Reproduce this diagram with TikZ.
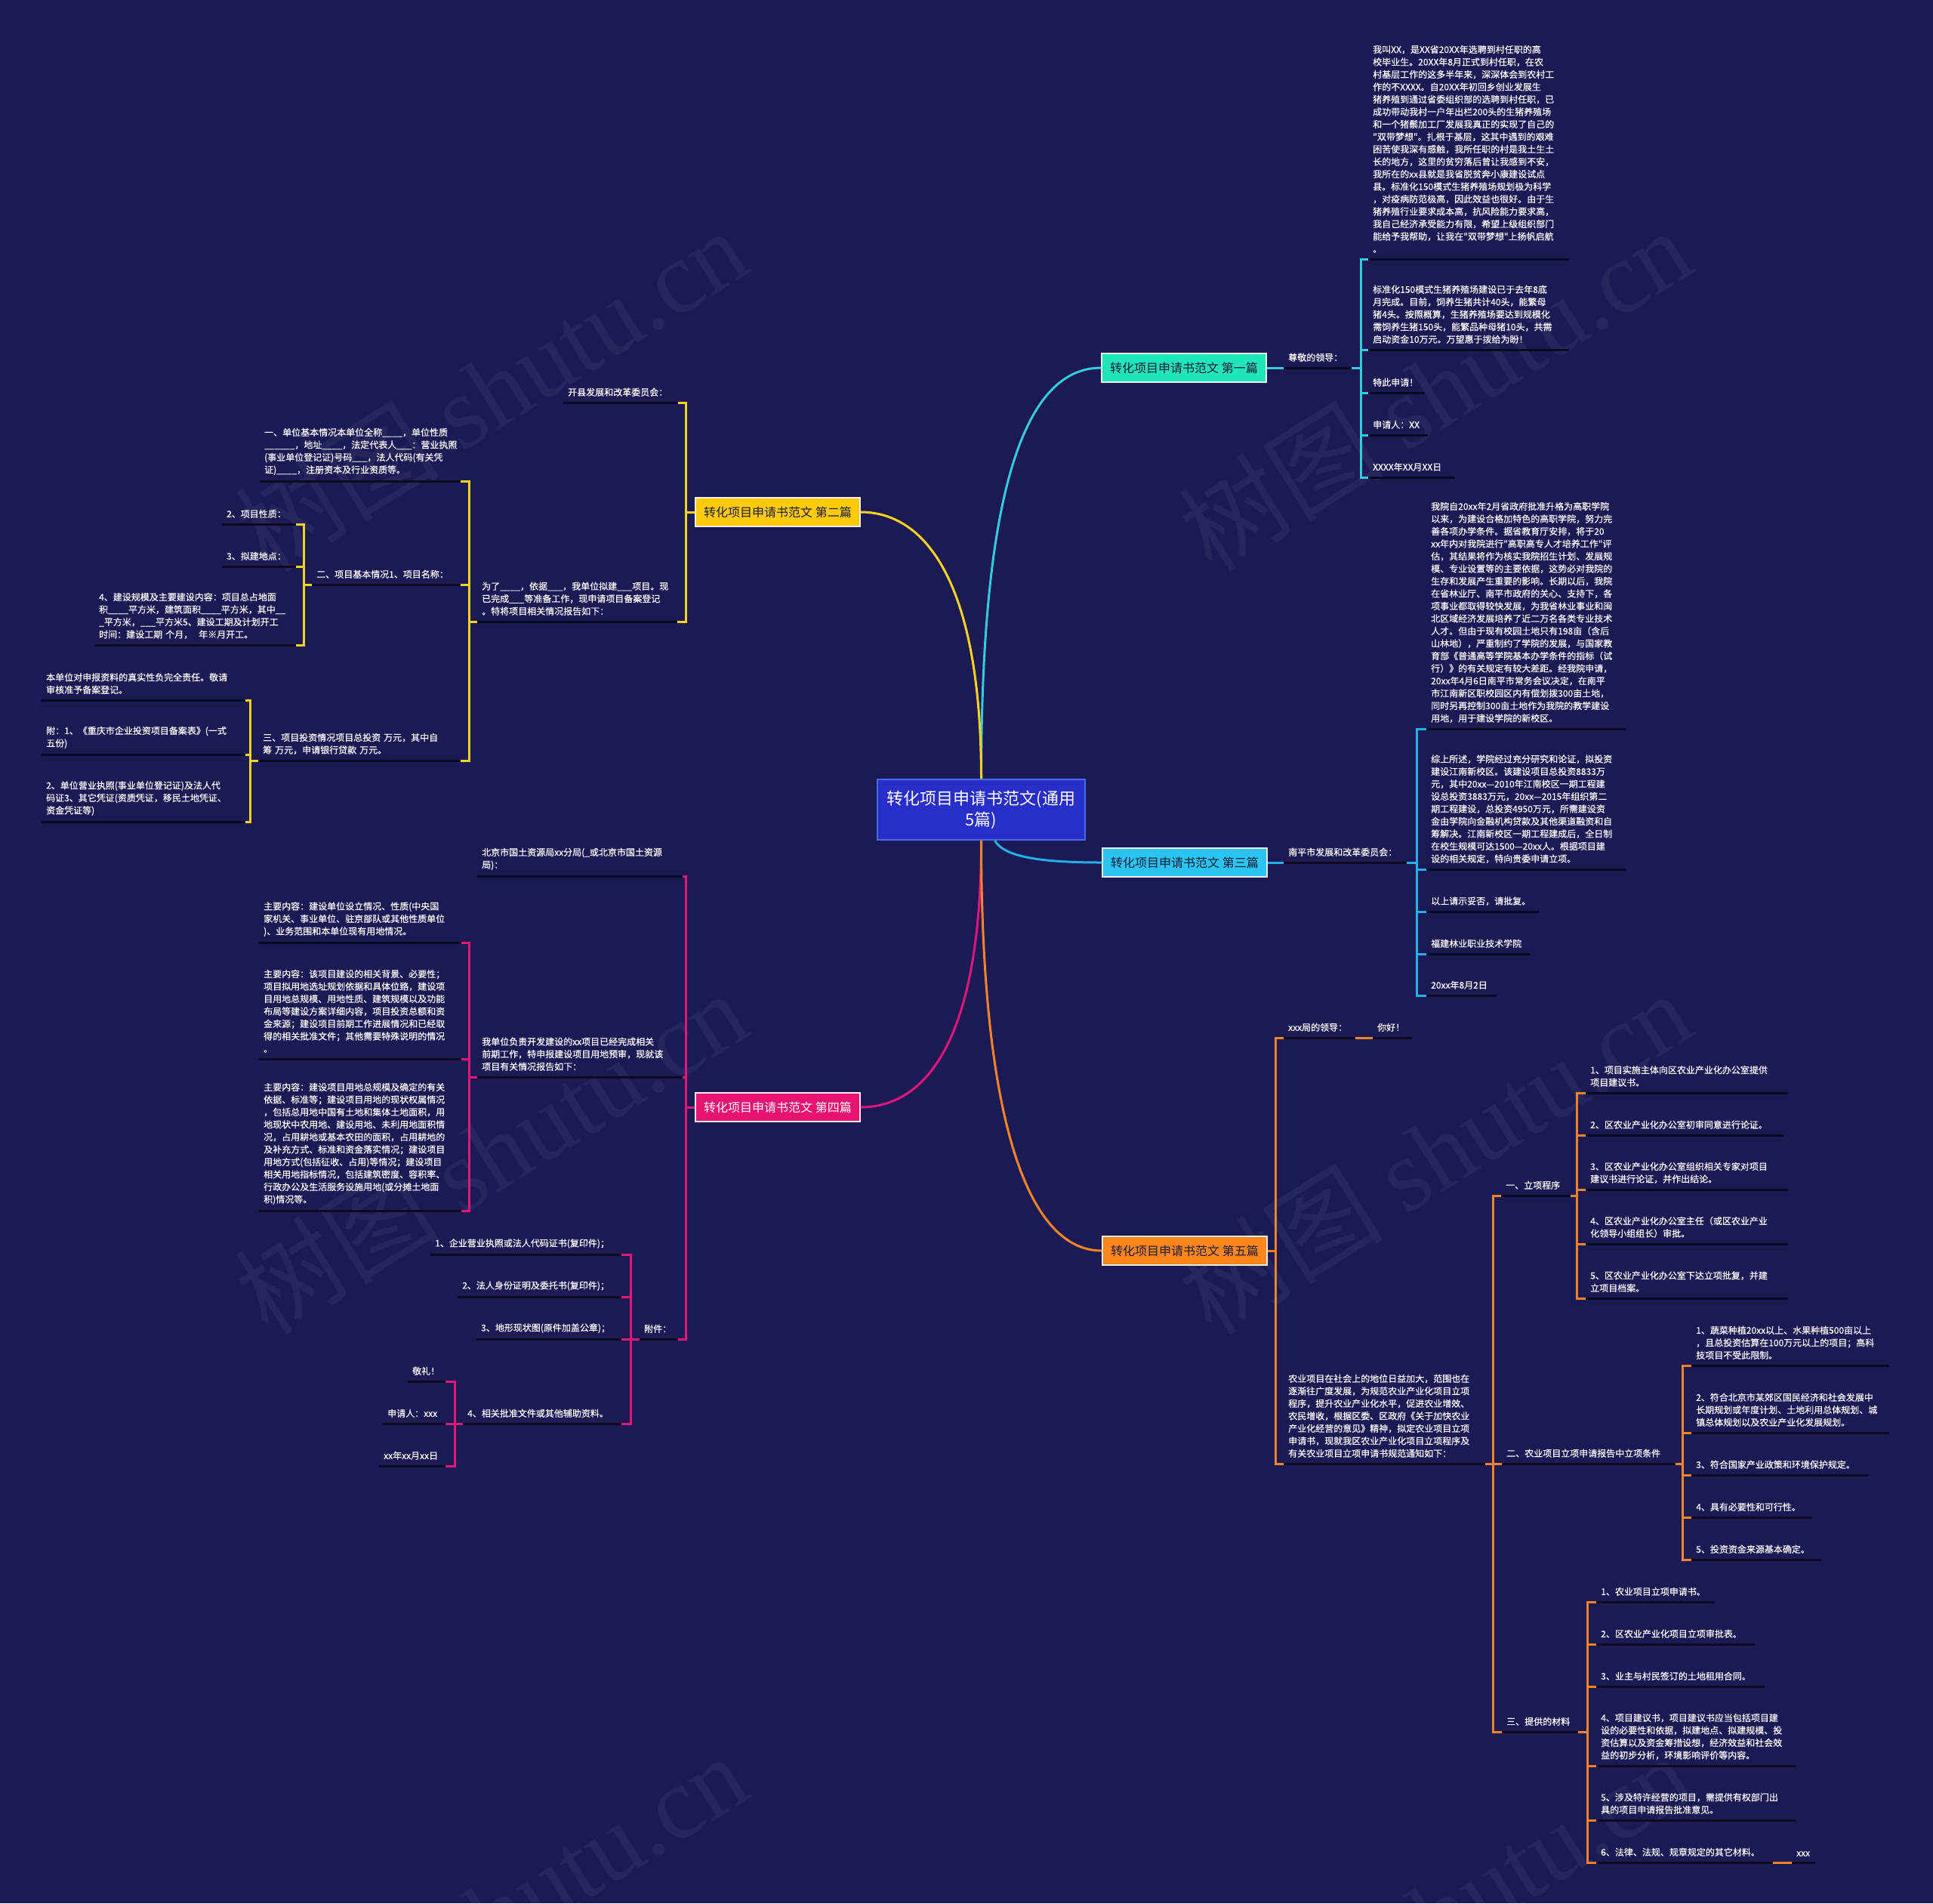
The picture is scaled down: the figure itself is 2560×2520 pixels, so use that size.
\documentclass[tikz,border=0pt]{standalone}
\usepackage{fontspec}
\setmainfont{Noto Sans CJK SC}
\newfontfamily\leaffont{Noto Sans CJK SC}[FakeBold=0.4]
\newfontfamily\wmfont{Liberation Serif}
\usepackage{tikz}
\usetikzlibrary{positioning}

\definecolor{bgnavy}{RGB}{27,26,84}
\definecolor{ulinec}{RGB}{10,10,32}
\definecolor{rootfill}{RGB}{40,46,200}
\definecolor{rootdraw}{RGB}{66,110,235}
\definecolor{darktext}{RGB}{28,28,60}
\definecolor{topic1}{RGB}{30,230,184}
\definecolor{topic2}{RGB}{255,203,8}
\definecolor{topic3}{RGB}{42,196,240}
\definecolor{topic4}{RGB}{232,18,112}
\definecolor{topic5}{RGB}{255,134,26}
\definecolor{line1}{RGB}{52,204,218}
\definecolor{line2}{RGB}{255,210,30}
\definecolor{line3}{RGB}{34,176,232}
\definecolor{line4}{RGB}{228,22,124}
\definecolor{line5}{RGB}{252,132,36}

\begin{document}
\begin{tikzpicture}[
  x=1pt, y=-1pt,
  leaf/.style={anchor=south west, align=left, text=white, inner xsep=6pt,
    inner ysep=8pt, font=\leaffont\fontsize{12pt}{16.5pt}\selectfont},
  uline/.style={draw=ulinec, line width=3pt},
  topic/.style={draw=white!85!gray, line width=1.5pt, minimum width=218pt,
    minimum height=38pt, inner sep=0pt, font=\fontsize{16pt}{20pt}\selectfont},
  root/.style={fill=rootfill, draw=rootdraw, line width=2pt, minimum width=275pt,
    minimum height=80pt, align=center, text=white,
    font=\fontsize{22pt}{28pt}\selectfont},
  wmark/.style={rotate=32, text=white, text opacity=0.05,
    font=\fontsize{136pt}{136pt}\selectfont},
  br1/.style={draw=line1, line width=3pt},
  br2/.style={draw=line2, line width=3pt},
  br3/.style={draw=line3, line width=3pt},
  br4/.style={draw=line4, line width=3pt},
  br5/.style={draw=line5, line width=3pt},
]
  % Canvas
  \useasboundingbox (0,0) rectangle (2560,2520);
  \fill[bgnavy] (0,0) rectangle (2560,2520);

  % Watermarks
  \foreach \wx/\wy [count=\i] in {650/515, 1900/515, 650/1525, 1900/1525, 650/2535, 1900/2535}
    \node[wmark] (wm\i) at (\wx,\wy) {树图 {\wmfont shutu.cn}};

  % Root and topics
  \node[root] (root) at (1299.5,1072) {转化项目申请书范文(通用\\5篇)};
  \node[topic, fill=topic1, text=darktext] (t1) at (1568,487)  {转化项目申请书范文 第一篇};
  \node[topic, fill=topic2, text=darktext] (t2) at (1030,678)  {转化项目申请书范文 第二篇};
  \node[topic, fill=topic3, text=darktext] (t3) at (1569,1142) {转化项目申请书范文 第三篇};
  \node[topic, fill=topic4, text=white]    (t4) at (1030,1466) {转化项目申请书范文 第四篇};
  \node[topic, fill=topic5, text=darktext] (t5) at (1569,1656) {转化项目申请书范文 第五篇};

  % Main curves
  \draw[br1] (root.north) .. controls (1299.5,640) and (1360,487) .. (t1.west);
  \draw[br2] (root.north) .. controls (1299.5,780) and (1230,678) .. (t2.east);
  \draw[br3] ([xshift=18pt]root.south) .. controls (1330,1135) and (1380,1142) .. (t3.west);
  \draw[br4] (root.south) .. controls (1299.5,1370) and (1230,1466) .. (t4.east);
  \draw[br5] (root.south) .. controls (1299.5,1480) and (1360,1656) .. (t5.west);

  % Topic 1
  \node[leaf, text width=78pt] (a1) at (1700,487) {尊敬的领导：};
  \node[leaf, text width=254pt] (a11) at (1812,343) {我叫XX，是XX省20XX年选聘到村任职的高\\校毕业生。20XX年8月正式到村任职，在农\\村基层工作的这多半年来，深深体会到农村工\\作的不XXXX。自20XX年初回乡创业发展生\\猪养殖到通过省委组织部的选聘到村任职，已\\成功带动我村一户年出栏200头的生猪养殖场\\和一个猪鬃加工厂发展我真正的实现了自己的\\"双带梦想"。扎根于基层，这其中遇到的艰难\\困苦使我深有感触，我所任职的村是我土生土\\长的地方，这里的贫穷落后曾让我感到不安，\\我所在的xx县就是我省脱贫奔小康建设试点\\县。标准化150模式生猪养殖场规划极为科学\\，对疫病防范极高，因此效益也很好。由于生\\猪养殖行业要求成本高，抗风险能力要求高，\\我自己经济承受能力有限，希望上级组织部门\\能给予我帮助，让我在"双带梦想"上扬帆启航\\。};
  \node[leaf, text width=254pt] (a12) at (1812,463) {标准化150模式生猪养殖场建设已于去年8底\\月完成。目前，饲养生猪共计40头，能繁母\\猪4头。按照概算，生猪养殖场要达到规模化\\需饲养生猪150头，能繁品种母猪10头，共需\\启动资金10万元。万望惠于拨给为盼！};
  \node[leaf, text width=63pt] (a13) at (1812,520) {特此申请！};
  \node[leaf, text width=67pt] (a14) at (1812,576) {申请人：XX};
  \node[leaf, text width=103pt] (a15) at (1812,632) {XXXX年XX月XX日};

  % Topic 2
  \node[leaf, text width=140pt] (d1) at (746,533) {开县发展和改革委员会：};
  \node[leaf, text width=253pt] (d2) at (632,823) {为了\_\_\_\_，依据\_\_\_，我单位拟建\_\_\_项目。现\\已完成\_\_\_等准备工作，现申请项目备案登记\\。特将项目相关情况报告如下：};
  \node[leaf, text width=254pt] (d21) at (344,637) {一、单位基本情况本单位全称\_\_\_\_，单位性质\\\_\_\_\_\_\_，地址\_\_\_\_，法定代表人\_\_\_：营业执照\\(事业单位登记证)号码\_\_\_，法人代码(有关凭\\证)\_\_\_\_，注册资本及行业资质等。};
  \node[leaf, text width=185pt] (d22) at (413,774) {二、项目基本情况1、项目名称：};
  \node[leaf, text width=256pt] (d23) at (342,1007) {三、项目投资情况项目总投资~万元，其中自\\筹~万元，申请银行贷款~万元。};
  \node[leaf, text width=86pt] (d221) at (294,694) {2、项目性质：};
  \node[leaf, text width=86pt] (d222) at (294,750) {3、拟建地点：};
  \node[leaf, text width=255pt] (d223) at (125,854) {4、建设规模及主要建设内容：项目总占地面\\积\_\_\_\_平方米，建筑面积\_\_\_\_平方米，其中\_\_\\\_平方米，\_\_\_平方米5、建设工期及计划开工\\时间：建设工期~个月，~~年※月开工。};
  \node[leaf, text width=258pt] (d231) at (55,927) {本单位对申报资料的真实性负完全责任。敬请\\审核准予备案登记。};
  \node[leaf, text width=258pt] (d232) at (55,999) {附：1、《重庆市企业投资项目备案表》(一式\\五份)};
  \node[leaf, text width=258pt] (d233) at (55,1088) {2、单位营业执照(事业单位登记证)及法人代\\码证3、其它凭证(资质凭证，移民土地凭证、\\资金凭证等)};

  % Topic 3
  \node[leaf, text width=151pt] (b1) at (1700,1142) {南平市发展和改革委员会：};
  \node[leaf, text width=252pt] (b11) at (1889,965) {我院自20xx年2月省政府批准升格为高职学院\\以来，为建设合格加特色的高职学院，努力完\\善各项办学条件。据省教育厅安排，将于20\\xx年内对我院进行"高职高专人才培养工作"评\\估，其结果将作为核实我院招生计划、发展规\\模、专业设置等的主要依据，这势必对我院的\\生存和发展产生重要的影响。长期以后，我院\\在省林业厅、南平市政府的关心、支持下，各\\项事业都取得较快发展，为我省林业事业和闽\\北区域经济发展培养了近二万名各类专业技术\\人才。但由于现有校园土地只有198亩（含后\\山林地），严重制约了学院的发展，与国家教\\育部《普通高等学院基本办学条件的指标（试\\行）》的有关规定有较大差距。经我院申请，\\20xx年4月6日南平市常务会议决定，在南平\\市江南新区职校园区内有偿划拨300亩土地，\\同时另再控制300亩土地作为我院的教学建设\\用地，用于建设学院的新校区。};
  \node[leaf, text width=252pt] (b12) at (1889,1151) {综上所述，学院经过充分研究和论证，拟投资\\建设江南新校区。该建设项目总投资8833万\\元，其中20xx—2010年江南校区一期工程建\\设总投资3883万元，20xx—2015年组织第二\\期工程建设，总投资4950万元，所需建设资\\金由学院向金融机构贷款及其他渠道融资和自\\筹解决。江南新校区一期工程建成后，全日制\\在校生规模可达1500—20xx人。根据项目建\\设的相关规定，特向贵委申请立项。};
  \node[leaf, text width=138pt] (b13) at (1889,1207) {以上请示妥否，请批复。};
  \node[leaf, text width=126pt] (b14) at (1889,1263) {福建林业职业技术学院};
  \node[leaf, text width=81pt] (b15) at (1889,1318) {20xx年8月2日};

  % Topic 4
  \node[leaf, text width=260pt] (f1) at (632,1160) {北京市国土资源局xx分局(\_或北京市国土资源\\局)：};
  \node[leaf, text width=260pt] (f2) at (632,1426) {我单位负责开发建设的xx项目已经完成相关\\前期工作，特申报建设项目用地预审，现就该\\项目有关情况报告如下：};
  \node[leaf, text width=39pt] (f3) at (847,1773) {附件：};
  \node[leaf, text width=256pt] (f21) at (343,1248) {主要内容：建设单位设立情况、性质(中央国\\家机关、事业单位、驻京部队或其他性质单位\\)、业务范围和本单位现有用地情况。};
  \node[leaf, text width=256pt] (f22) at (343,1402) {主要内容：该项目建设的相关背景、必要性；\\项目拟用地选址规划依据和具体位臵，建设项\\目用地总规模、用地性质、建筑规模以及功能\\布局等建设方案详细内容，项目投资总额和资\\金来源；建设项目前期工作进展情况和已经取\\得的相关批准文件；其他需要特殊说明的情况\\。};
  \node[leaf, text width=256pt] (f23) at (343,1603) {主要内容：建设项目用地总规模及确定的有关\\依据、标准等；建设项目用地的现状权属情况\\，包括总用地中国有土地和集体土地面积，用\\地现状中农用地、建设用地、未利用地面积情\\况，占用耕地或基本农田的面积，占用耕地的\\及补充方式、标准和资金落实情况；建设项目\\用地方式(包括征收、占用)等情况；建设项目\\相关用地指标情况，包括建筑密度、容积率、\\行政办公及生活服务设施用地(或分摊土地面\\积)情况等。};
  \node[leaf, text width=241pt] (f31) at (570,1661) {1、企业营业执照或法人代码证书(复印件)；};
  \node[leaf, text width=205pt] (f32) at (606,1717) {2、法人身份证明及委托书(复印件)；};
  \node[leaf, text width=180pt] (f33) at (631,1773) {3、地形现状图(原件加盖公章)；};
  \node[leaf, text width=198pt] (f34) at (613,1885) {4、相关批准文件或其他辅助资料。};
  \node[leaf, text width=38pt] (f341) at (540,1829) {敬礼！};
  \node[leaf, text width=71pt] (f342) at (507,1885) {申请人：xxx};
  \node[leaf, text width=76pt] (f343) at (502,1941) {xx年xx月xx日};

  % Topic 5
  \node[leaf, text width=83pt] (e1) at (1700,1374) {xxx局的领导：};
  \node[leaf, text width=40pt] (e1a) at (1818,1374) {你好！};
  \node[leaf, text width=255pt] (e2) at (1700,1938) {农业项目在社会上的地位日益加大，范围也在\\逐渐往广度发展，为规范农业产业化项目立项\\程序，提升农业产业化水平，促进农业增效、\\农民增收，根据区委、区政府《关于加快农业\\产业化经营的意见》精神，拟定农业项目立项\\申请书，现就我区农业产业化项目立项程序及\\有关农业项目立项申请书规范通知如下：};
  \node[leaf, text width=80pt] (e21) at (1988,1583) {一、立项程序};
  \node[leaf, text width=218pt] (e22) at (1989,1938) {二、农业项目立项申请报告中立项条件};
  \node[leaf, text width=89pt] (e23) at (1989,2293) {三、提供的材料};
  \node[leaf, text width=256pt] (e211) at (2100,1447) {1、项目实施主体向区农业产业化办公室提供\\项目建议书。};
  \node[leaf, text width=250pt] (e212) at (2100,1503) {2、区农业产业化办公室初审同意进行论证。};
  \node[leaf, text width=256pt] (e213) at (2100,1575) {3、区农业产业化办公室组织相关专家对项目\\建议书进行论证，并作出结论。};
  \node[leaf, text width=256pt] (e214) at (2100,1647) {4、区农业产业化办公室主任（或区农业产业\\化领导小组组长）审批。};
  \node[leaf, text width=256pt] (e215) at (2100,1719) {5、区农业产业化办公室下达立项批复，并建\\立项目档案。};
  \node[leaf, text width=250pt] (e221) at (2240,1808) {1、蔬菜种植20xx以上、水果种植500亩以上\\，且总投资估算在100万元以上的项目；高科\\技项目不受此限制。};
  \node[leaf, text width=250pt] (e222) at (2240,1897) {2、符合北京市某郊区国民经济和社会发展中\\长期规划或年度计划、土地利用总体规划、城\\镇总体规划以及农业产业化发展规划。};
  \node[leaf, text width=223pt] (e223) at (2240,1953) {3、符合国家产业政策和环境保护规定。};
  \node[leaf, text width=148pt] (e224) at (2240,2009) {4、具有必要性和可行性。};
  \node[leaf, text width=160pt] (e225) at (2240,2065) {5、投资资金来源基本确定。};
  \node[leaf, text width=145pt] (e231) at (2114,2121) {1、农业项目立项申请书。};
  \node[leaf, text width=198pt] (e232) at (2114,2177) {2、区农业产业化项目立项审批表。};
  \node[leaf, text width=211pt] (e233) at (2114,2233) {3、业主与村民签订的土地租用合同。};
  \node[leaf, text width=253pt] (e234) at (2114,2338) {4、项目建议书，项目建议书应当包括项目建\\设的必要性和依据，拟建地点、拟建规模、投\\资估算以及资金筹措设想，经济效益和社会效\\益的初步分析，环境影响评价等内容。};
  \node[leaf, text width=253pt] (e235) at (2114,2410) {5、涉及特许经营的项目，需提供有权部门出\\具的项目申请报告批准意见。};
  \node[leaf, text width=222pt] (e236) at (2114,2466) {6、法律、法规、规章规定的其它材料。};
  \node[leaf, text width=19pt] (e236a) at (2373,2466) {xxx};

  % Underlines
  \foreach \n in {a1,a11,a12,a13,a14,a15,
                  d1,d2,d21,d22,d23,d221,d222,d223,d231,d232,d233,
                  b1,b11,b12,b13,b14,b15,
                  f1,f2,f3,f21,f22,f23,f31,f32,f33,f34,f341,f342,f343,
                  e1,e1a,e2,e21,e22,e23,e211,e212,e213,e214,e215,
                  e221,e222,e223,e224,e225,e231,e232,e233,e234,e235,e236,e236a}
    \draw[uline] (\n.south west) -- (\n.south east);

  % Brackets, right side
  \draw[br1] (t1.east) -- (a1.south west);
  \foreach \c in {a11,a12,a13,a14,a15} \draw[br1] (a1.south east) -- ++(12,0) |- (\c.south west);
  \draw[br3] (t3.east) -- (b1.south west);
  \foreach \c in {b11,b12,b13,b14,b15} \draw[br3] (b1.south east) -- ++(13,0) |- (\c.south west);
  \foreach \c in {e1,e2} \draw[br5] (t5.east) -- ++(11,0) |- (\c.south west);
  \draw[br5] (e1.south east) -- (e1a.south west);
  \foreach \c in {e21,e22,e23} \draw[br5] (e2.south east) -- ++(10,0) |- (\c.south west);
  \foreach \c in {e211,e212,e213,e214,e215} \draw[br5] (e21.south east) -- ++(8,0) |- (\c.south west);
  \foreach \c in {e221,e222,e223,e224,e225} \draw[br5] (e22.south east) -- ++(9,0) |- (\c.south west);
  \foreach \c in {e231,e232,e233,e234,e235,e236} \draw[br5] (e23.south east) -- ++(12,0) |- (\c.south west);
  \draw[br5] (e236.south east) -- (e236a.south west);

  % Brackets, left side
  \foreach \c in {d1,d2} \draw[br2] (t2.west) -- ++(-12,0) |- (\c.south east);
  \foreach \c in {d21,d22,d23} \draw[br2] (d2.south west) -- ++(-11,0) |- (\c.south east);
  \foreach \c in {d221,d222,d223} \draw[br2] (d22.south west) -- ++(-11,0) |- (\c.south east);
  \foreach \c in {d231,d232,d233} \draw[br2] (d23.south west) -- ++(-11,0) |- (\c.south east);
  \foreach \c in {f1,f2,f3} \draw[br4] (t4.west) -- ++(-12,0) |- (\c.south east);
  \foreach \c in {f21,f22,f23} \draw[br4] (f2.south west) -- ++(-11,0) |- (\c.south east);
  \foreach \c in {f31,f32,f33,f34} \draw[br4] (f3.south west) -- ++(-12,0) |- (\c.south east);
  \foreach \c in {f341,f342,f343} \draw[br4] (f34.south west) -- ++(-11,0) |- (\c.south east);
\end{tikzpicture}
\end{document}
